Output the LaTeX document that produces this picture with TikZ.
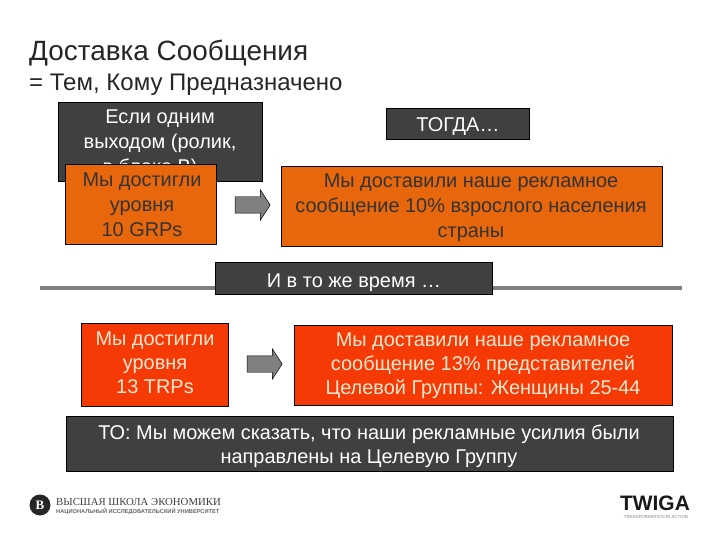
\documentclass[tikz,border=0pt]{standalone}
\usepackage{fontspec}
\setmainfont{Liberation Sans}
\newfontfamily\hsefont{Liberation Serif}
\usetikzlibrary{shapes.arrows}
\definecolor{darkbox}{HTML}{404040}
\definecolor{orangebox}{HTML}{E8670C}
\definecolor{redbox}{HTML}{F53A05}
\definecolor{redtxt}{HTML}{FFE8D0}
\definecolor{rulegray}{HTML}{808080}
\tikzset{
 boxbase/.style={draw=black,line width=0.9pt,align=center,inner sep=0pt,anchor=north west,font=\fontsize{20}{25}\selectfont},
 darkb/.style={boxbase,fill=darkbox,text=white},
 orangec/.style={boxbase,fill=orangebox},
 redb/.style={boxbase,fill=redbox},
 bodytxt/.style={align=center,inner sep=0pt,font=\fontsize{20}{25}\selectfont},
 grayarrow/.style={draw=black,line width=0.5pt,fill=rulegray,single arrow,single arrow head extend=7bp,single arrow tip angle=114,minimum height=35bp,inner ysep=8bp,inner xsep=0pt}
}
\begin{document}
\begin{tikzpicture}[x=1bp,y=-1bp]
\useasboundingbox[fill=white] (0,0) rectangle (720,540);
\node[anchor=west,font=\fontsize{28}{30}\selectfont,text=black!85,inner sep=0pt] (title) at (29,53) {Доставка Сообщения};
\node[anchor=west,font=\fontsize{24.1}{26}\selectfont,text=black!85,inner sep=0pt] (sub) at (29,85) {= Тем, Кому Предназначено};

\node[darkb,minimum width=204bp,minimum height=79bp] (if) at (58,102) {};
\node[bodytxt,text=white,anchor=north] (iftext) at (160,110) {Если одним\\выходом (ролик,\\в блоке В)…};
\node[orangec,minimum width=151bp,minimum height=80bp] (grp) at (65,164) {};
\node[bodytxt,text=black!80] (grptext) at (142,205) {Мы достигли\\уровня\\10 GRPs};
\node[grayarrow] (a1) at (250,205) {};
\node[orangec,minimum width=381bp,minimum height=80bp] (res1) at (281,166) {};
\node[bodytxt,text=black!80] (res1text) at (471,207.5) {Мы доставили наше рекламное\\сообщение 10\% взрослого населения\\страны};
\node[darkb,minimum width=143bp,minimum height=31bp,align=none,text height=19bp,text depth=4bp] (then) at (386,108) {ТОГДА…};

\coordinate (ruleL) at (40,288);
\coordinate (ruleR) at (682,288);
\draw[rulegray,line width=3.5bp] (ruleL) -- (ruleR);
\node[darkb,minimum width=277bp,minimum height=32bp,align=none,text height=22bp,text depth=4bp] (mean) at (215,262) {И в то же время …};

\node[redb,minimum width=147bp,minimum height=83bp] (trp) at (81,323) {};
\node[bodytxt,text=redtxt,font=\fontsize{20}{24}\selectfont] (trptext) at (155,363) {Мы достигли\\уровня\\13 TRPs};
\node[grayarrow] (a2) at (262,364) {};
\node[redb,minimum width=378bp,minimum height=80bp] (res2) at (294,325) {};
\node[bodytxt,text=redtxt,font=\fontsize{20}{24}\selectfont] (res2text) at (483,366) {Мы доставили наше рекламное\\сообщение 13\% представителей\\Целевой Группы: Женщины 25-44};

\node[darkb,minimum width=607bp,minimum height=55bp] (concl) at (66,416) {};
\node[bodytxt,text=white,font=\fontsize{20}{24.5}\selectfont] (concltext) at (369,446) {ТО: Мы можем сказать, что наши рекламные усилия были\\направлены на Целевую Группу};

\node[circle,fill=black!85,minimum size=21bp,inner sep=0pt,text=white,font=\hsefont\bfseries\fontsize{13}{13}\selectfont] (hselogo) at (40,505) {В};
\node[anchor=west,inner sep=0pt,text=black!75,font=\hsefont\fontsize{10.8}{12}\selectfont] (hse1) at (56,502) {ВЫСШАЯ ШКОЛА ЭКОНОМИКИ};
\node[anchor=west,inner sep=0pt,text=black!60,font=\bfseries\fontsize{5.7}{6}\selectfont] (hse2) at (56,511.5) {НАЦИОНАЛЬНЫЙ ИССЛЕДОВАТЕЛЬСКИЙ УНИВЕРСИТЕТ};
\node[anchor=center,inner sep=0pt,text=black!90,font=\bfseries\fontsize{21}{22}\selectfont] (twiga) at (655,503) {TWIGA};
\node[anchor=center,inner sep=0pt,text=black!50,font=\fontsize{4.4}{5}\selectfont] (tw2) at (656,516.5) {TRANSFORMATION IN ACTION};
\end{tikzpicture}
\end{document}
